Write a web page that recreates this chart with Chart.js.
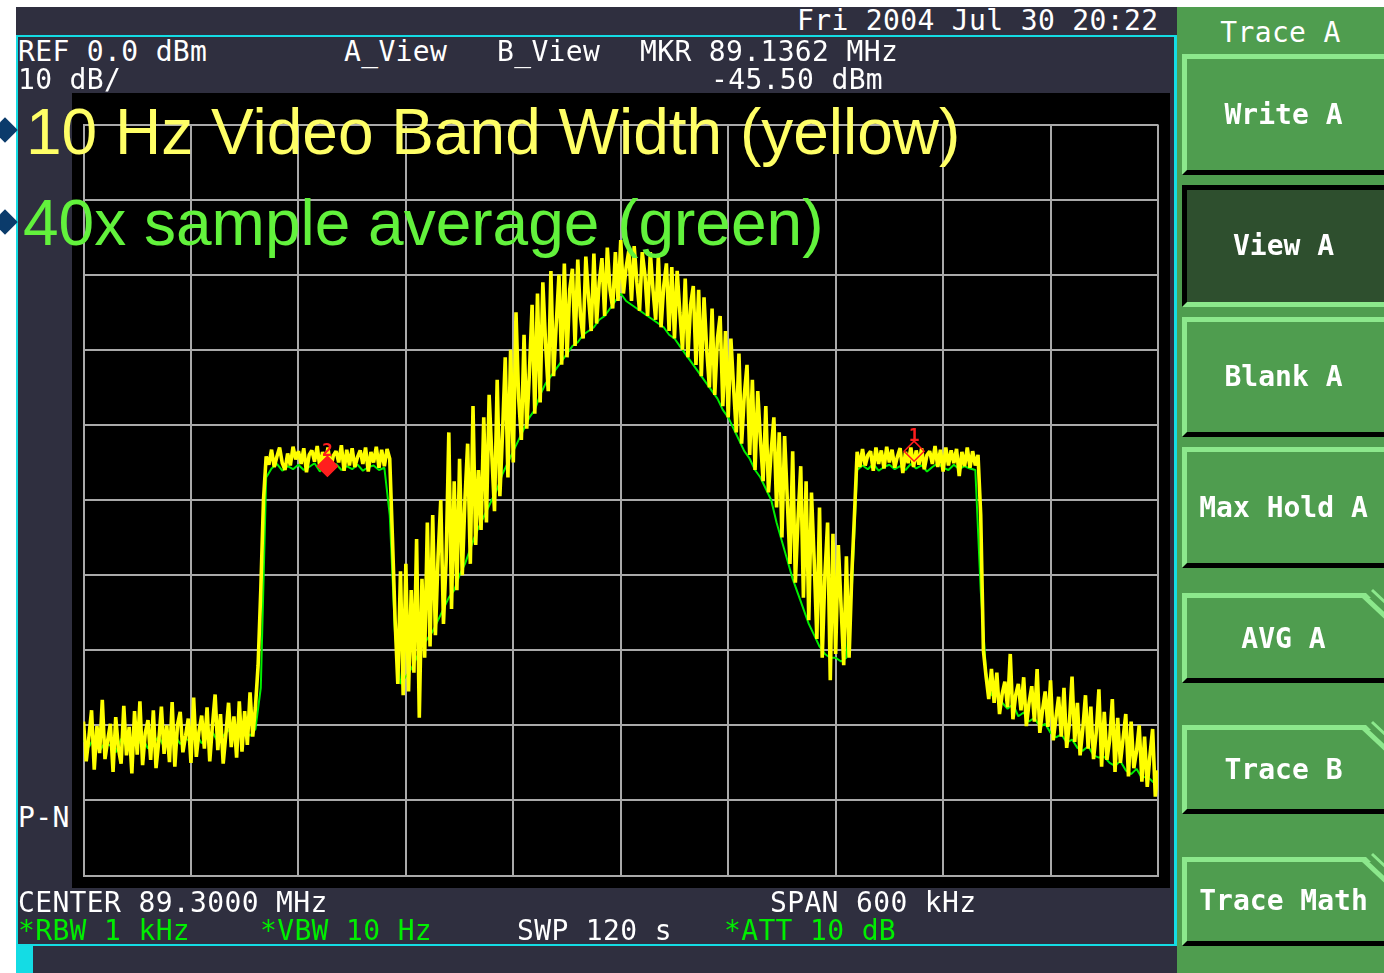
<!DOCTYPE html>
<html>
<head>
<meta charset="utf-8">
<script src="https://cdn.jsdelivr.net/npm/chart.js@4.4.0/dist/chart.umd.min.js"></script>
<style>
  html, body { margin: 0; padding: 0; background: #fff; width: 1384px; height: 973px; overflow: hidden; position: relative; }
  .box { position: absolute; }
  #screen { left: 16px; top: 7px; width: 1161px; height: 966px; background: #2f2f3f; }
  .cy { position: absolute; background: #14dce4; }
  #plot { position: absolute; left: 72px; top: 93px; width: 1098px; height: 795px; background: #000; }
  #plot canvas { display: block; }
  .t { position: absolute; font-family: "DejaVu Sans Mono", monospace; font-size: 28px; line-height: 28px; color: #fff; white-space: pre; letter-spacing: 0.35px; }
  .g { color: #00ee00; }
  #panel { left: 1177px; top: 7px; width: 207px; height: 966px; background: #4f9d4f; }
  .key { position: absolute; left: 1182px; width: 210px; box-sizing: border-box; background: #4f9d4f;
         border-top: 5px solid #8ce88c; border-left: 5px solid #8ce88c; border-bottom: 5px solid #000; }
  .key.down { background: #2e4f2e; border-top-color: #000; border-left-color: #000; border-bottom-color: #8ce88c; }
  .kl { position: absolute; left: 1183px; width: 201px; text-align: center; font-family: "DejaVu Sans Mono", monospace;
        font-size: 28px; line-height: 28px; color: #fff; font-weight: bold; white-space: pre; }
  .note { position: absolute; font-family: "Liberation Sans", Arial, sans-serif; font-size: 64px; line-height: 64px; white-space: pre; }
  .bullet { position: absolute; width: 18px; height: 18px; background: #0b3b6b; transform: rotate(45deg); }
</style>
</head>
<body>
<div id="screen" class="box"></div>
<div class="cy" style="left:16px;top:35px;width:1161px;height:2px"></div>
<div class="cy" style="left:16px;top:35px;width:2px;height:911px"></div>
<div class="cy" style="left:1174px;top:35px;width:3px;height:911px"></div>
<div class="cy" style="left:16px;top:944px;width:1161px;height:2px"></div>
<div class="cy" style="left:16px;top:946px;width:17px;height:27px"></div>

<div id="plot"><canvas id="c" width="1098" height="795"></canvas></div>

<!-- instrument status text -->
<div class="t" style="left:797px;top:7px">Fri 2004 Jul 30 20:22</div>
<div class="t" style="left:18px;top:38px">REF 0.0 dBm</div>
<div class="t" style="left:18px;top:66px">10 dB/</div>
<div class="t" style="left:344px;top:38px">A_View</div>
<div class="t" style="left:497px;top:38px">B_View</div>
<div class="t" style="left:640px;top:38px">MKR 89.1362 MHz</div>
<div class="t" style="left:711px;top:66px">-45.50 dBm</div>
<div class="t" style="left:18px;top:804px">P-N</div>
<div class="t" style="left:18px;top:889px">CENTER 89.3000 MHz</div>
<div class="t" style="left:770px;top:889px">SPAN 600 kHz</div>
<div class="t g" style="left:18px;top:917px">*RBW 1 kHz</div>
<div class="t g" style="left:260px;top:917px">*VBW 10 Hz</div>
<div class="t" style="left:517px;top:917px">SWP 120 s</div>
<div class="t g" style="left:724px;top:917px">*ATT 10 dB</div>

<!-- softkey menu -->
<div id="panel" class="box"></div>
<div class="t" style="left:1177px;width:207px;text-align:center;top:19px">Trace A</div>
<div class="key" style="top:54px;height:121px"></div>
<div class="key down" style="top:185px;height:122px"></div>
<div class="key" style="top:317px;height:120px"></div>
<div class="key" style="top:447px;height:121px"></div>
<div class="key" style="top:593px;height:90px"></div>
<div class="key" style="top:725px;height:89px"></div>
<div class="key" style="top:857px;height:89px"></div>
<svg class="box" style="left:0;top:0" width="1384" height="973">
  <g fill="#4f9d4f" stroke="none">
    <polygon points="1366,593 1390,593 1390,617"/>
    <polygon points="1366,725 1390,725 1390,749"/>
    <polygon points="1366,857 1390,857 1390,881"/>
  </g>
  <g stroke="#8ce88c" stroke-width="5" fill="none">
    <line x1="1363" y1="595.5" x2="1386" y2="617"/>
    <line x1="1363" y1="727.5" x2="1386" y2="749"/>
    <line x1="1363" y1="859.5" x2="1386" y2="881"/>
  </g>
  <g stroke="#8ce88c" stroke-width="3" fill="none">
    <line x1="1372" y1="590" x2="1388" y2="605"/>
    <line x1="1372" y1="722" x2="1388" y2="737"/>
    <line x1="1372" y1="854" x2="1388" y2="869"/>
  </g>
</svg>
<div class="kl" style="top:101px">Write A</div>
<div class="kl" style="top:232px">View A</div>
<div class="kl" style="top:363px">Blank A</div>
<div class="kl" style="top:494px">Max Hold A</div>
<div class="kl" style="top:625px">AVG A</div>
<div class="kl" style="top:756px">Trace B</div>
<div class="kl" style="top:887px">Trace Math</div>

<!-- slide notes -->
<div class="bullet" style="left:-4px;top:121px"></div>
<div class="bullet" style="left:-4px;top:213px"></div>
<div class="note" style="left:26px;top:100px;color:#ffff66">10 Hz Video Band Width (yellow)</div>
<div class="note" style="left:23px;top:191px;color:#62f23c">40x sample average (green)</div>

<script>
// Sweep settings shown on screen
const CENTER_KHZ = 89300;
const SPAN_KHZ = 600;
const REF_DBM = 0;
const DB_PER_DIV = 10;
const DIVISIONS = 10;

// Trace A, 10 Hz video bandwidth (yellow), 401 sweep points, dBm
const traceVbw10 = [
  -79.5, -84.8, -81.6, -78.0, -85.9, -80.1, -83.7, -76.6, -84.5, -82.0,
  -79.8, -86.2, -78.9, -83.1, -85.1, -77.4, -84.0, -80.2, -86.4, -78.1,
  -83.9, -76.8, -85.3, -81.0, -79.3, -84.6, -78.0, -85.7, -82.2, -77.5,
  -83.8, -80.0, -84.9, -76.9, -85.5, -79.9, -78.2, -83.6, -81.4, -79.1,
  -85.0, -76.3, -84.2, -80.8, -78.7, -83.1, -77.6, -84.8, -80.0, -75.9,
  -83.3, -78.5, -85.1, -81.2, -77.0, -82.9, -78.8, -84.3, -76.8, -83.5,
  -78.1, -82.6, -75.6, -81.5, -77.6, -72.0, -62.0, -50.0, -44.2, -45.3,
  -43.3, -45.6, -44.2, -43.0, -45.1, -46.0, -43.8, -45.4, -42.9, -44.6,
  -43.5, -45.2, -43.1, -46.3, -44.0, -43.4, -44.9, -42.8, -45.7, -43.6,
  -45.3, -43.0, -45.9, -44.1, -43.5, -45.0, -42.7, -46.1, -43.3, -45.4,
  -43.1, -45.6, -44.3, -43.4, -45.2, -43.0, -46.2, -43.6, -45.0, -42.9,
  -45.7, -43.3, -45.5, -43.2, -44.5, -55.0, -66.0, -74.5, -59.5, -76.0,
  -58.5, -75.5, -62.0, -73.0, -55.2, -79.0, -60.5, -71.0, -53.0, -69.5,
  -52.0, -68.0, -57.5, -50.0, -66.5, -58.0, -41.0, -64.5, -47.5, -62.0,
  -44.5, -60.0, -50.0, -42.5, -58.5, -37.5, -56.0, -46.0, -54.0, -39.0,
  -53.0, -36.0, -44.0, -51.5, -34.0, -49.5, -41.0, -31.0, -47.0, -30.0,
  -45.0, -25.0, -36.5, -42.0, -28.0, -40.5, -33.0, -24.0, -38.5, -22.5,
  -37.0, -21.0, -29.0, -35.5, -19.5, -33.5, -26.5, -20.0, -32.0, -18.5,
  -31.0, -22.0, -19.2, -29.5, -18.0, -25.5, -28.5, -17.6, -23.0, -27.5,
  -17.2, -26.5, -21.0, -17.8, -25.5, -16.4, -22.0, -24.5, -17.0, -23.5,
  -15.4, -22.5, -19.0, -16.8, -23.5, -16.2, -21.0, -24.8, -17.0, -20.0,
  -25.5, -17.0, -22.0, -26.0, -17.5, -27.0, -21.5, -18.5, -27.5, -19.0,
  -28.5, -19.5, -25.0, -30.0, -20.5, -31.0, -24.0, -21.5, -32.0, -22.0,
  -33.5, -23.0, -30.0, -35.0, -24.5, -36.0, -28.5, -25.5, -37.5, -27.5,
  -39.0, -28.5, -35.0, -41.0, -30.5, -42.5, -36.0, -32.0, -44.0, -34.0,
  -46.0, -35.5, -42.0, -47.5, -37.5, -49.0, -43.5, -39.0, -51.0, -41.0,
  -55.0, -41.5, -50.0, -58.5, -43.5, -61.0, -52.5, -45.5, -63.0, -47.5,
  -66.0, -49.0, -58.0, -68.5, -51.0, -71.0, -60.0, -53.0, -74.0, -54.5,
  -70.5, -56.0, -64.0, -72.0, -57.5, -71.0, -60.0, -52.0, -43.6, -45.6,
  -43.2, -45.4, -44.0, -43.5, -46.1, -43.0, -45.2, -43.4, -45.8, -42.9,
  -45.0, -43.3, -45.7, -44.2, -43.1, -46.4, -43.6, -45.1, -43.0, -45.6,
  -43.4, -45.3, -43.1, -45.9, -44.0, -43.5, -45.2, -42.8, -45.6, -43.3,
  -46.2, -43.0, -45.4, -43.4, -45.1, -43.2, -46.8, -43.6, -45.5, -43.0,
  -45.7, -43.5, -45.4, -44.0, -52.0, -70.0, -73.5, -76.5, -72.5, -77.0,
  -73.0, -78.5, -75.8, -74.2, -77.6, -70.5, -79.2, -76.0, -74.5, -78.0,
  -73.6, -80.1, -77.0, -74.8, -79.5, -72.5, -81.0, -78.0, -75.5, -80.2,
  -74.0, -82.0, -79.0, -76.2, -81.5, -75.0, -83.0, -79.8, -73.5, -82.2,
  -77.0, -84.0, -80.5, -76.0, -83.1, -77.5, -84.5, -81.0, -75.2, -85.5,
  -78.2, -84.6, -82.0, -76.5, -86.2, -79.0, -85.0, -81.8, -78.5, -86.8,
  -79.5, -85.7, -83.5, -80.0, -87.5, -81.5, -88.2, -84.0, -80.5, -89.5,
  -86.0
];

// 40-sweep sample-detector average (green), 201 sweep points, dBm
const traceAvg40 = [
  -82.0, -82.9, -81.6, -83.4, -82.3, -82.7, -83.6, -81.8, -82.8, -82.2,
  -82.6, -81.7, -83.1, -82.4, -81.5, -82.9, -82.0, -81.3, -82.5, -81.8,
  -82.1, -81.2, -82.4, -81.6, -80.9, -82.2, -81.4, -80.6, -81.8, -81.1,
  -80.7, -81.4, -80.5, -75.0, -47.0, -45.8, -45.2, -46.1, -45.5, -45.9,
  -45.3, -46.0, -45.6, -45.1, -46.2, -45.4, -45.8, -45.2, -46.0, -45.5,
  -45.9, -45.3, -46.1, -45.6, -45.4, -46.0, -45.7, -52.0, -68.0, -74.5,
  -73.5, -72.5, -71.0, -69.5, -68.5, -67.5, -66.0, -64.5, -63.0, -62.0,
  -60.0, -58.5, -56.5, -54.5, -53.0, -51.5, -50.0, -48.5, -46.5, -45.0,
  -43.5, -42.0, -40.5, -39.0, -38.0, -36.0, -34.5, -33.5, -32.5, -31.5,
  -30.5, -29.5, -29.0, -28.0, -27.5, -27.0, -26.0, -25.5, -24.5, -23.5,
  -22.5, -23.5, -24.0, -24.5, -25.0, -25.5, -26.0, -26.5, -27.0, -28.0,
  -28.5, -29.5, -30.5, -31.5, -32.5, -33.5, -34.5, -35.5, -36.5, -38.0,
  -39.0, -40.5, -42.0, -43.5, -44.5, -46.0, -47.0, -48.5, -50.0, -53.0,
  -55.5, -58.0, -60.5, -62.5, -64.5, -66.5, -68.0, -69.5, -70.5, -71.0,
  -71.0, -71.5, -71.0, -62.0, -46.0, -45.4, -45.9, -45.2, -46.1, -45.6,
  -45.3, -45.9, -45.5, -46.0, -45.2, -45.8, -45.4, -46.2, -45.6, -45.1,
  -45.7, -46.0, -45.3, -45.9, -45.5, -45.8, -46.0, -62.0, -73.0, -76.0,
  -76.0, -77.0, -77.8, -77.2, -78.8, -78.3, -79.5, -79.0, -80.2, -79.8,
  -81.0, -81.6, -81.2, -82.3, -81.9, -83.0, -83.4, -82.8, -84.0, -84.3,
  -84.2, -85.0, -85.4, -84.8, -86.0, -86.5, -85.8, -87.0, -86.8, -87.5,
  -88.0
];

// Markers: number, frequency (kHz), level (dBm), filled = active marker
const markerName = ['1', '2'];
const markerFreqKhz = [89463.8, 89136.2];
const markerLevel = [-43.5, -45.50];
const markerActive = [false, true];

// Sweep points are evenly spread across the span
function sweepFreqs(n) {
  const start = CENTER_KHZ - SPAN_KHZ / 2;
  return Array.from({ length: n }, (_, i) => start + i * SPAN_KHZ / (n - 1));
}
function toPoints(values) {
  const f = sweepFreqs(values.length);
  return values.map((v, i) => ({ x: f[i], y: v }));
}

const markerLabels = {
  id: 'markerLabels',
  afterDatasetsDraw(chart) {
    const { ctx, scales: { x, y } } = chart;
    ctx.save();
    ctx.fillStyle = '#ff1e1e';
    ctx.font = 'bold 18px "DejaVu Sans Mono", monospace';
    ctx.textAlign = 'center';
    ctx.textBaseline = 'bottom';
    markerFreqKhz.forEach((f, i) => {
      ctx.fillText(markerName[i], x.getPixelForValue(f), y.getPixelForValue(markerLevel[i]) - 6);
    });
    ctx.restore();
  }
};

const gridStyle = { color: '#a9a9a9', lineWidth: 2, drawTicks: false };
const borderStyle = { display: true, color: '#a9a9a9', width: 2 };

new Chart(document.getElementById('c'), {
  type: 'line',
  data: {
    datasets: [
      {
        type: 'scatter',
        data: markerFreqKhz.map((f, i) => ({ x: f, y: markerLevel[i] })),
        pointStyle: 'rectRot',
        pointRadius: 10,
        pointBorderWidth: 1.5,
        pointBorderColor: '#ff1e1e',
        pointBackgroundColor: markerActive.map(a => a ? '#ff1e1e' : 'rgba(0,0,0,0)'),
        showLine: false,
        order: 0
      },
      {
        data: toPoints(traceVbw10),
        borderColor: '#ffff00',
        borderWidth: 3.6,
        borderJoinStyle: 'bevel',
        pointRadius: 0,
        order: 1
      },
      {
        data: toPoints(traceAvg40),
        borderColor: '#00ee00',
        borderWidth: 2,
        borderJoinStyle: 'bevel',
        pointRadius: 0,
        order: 2
      }
    ]
  },
  options: {
    responsive: false,
    animation: false,
    devicePixelRatio: 1,
    layout: { padding: { left: 11.5, top: 31.5, right: 12, bottom: 12.5 } },
    plugins: { legend: { display: false }, tooltip: { enabled: false } },
    elements: { line: { tension: 0 } },
    scales: {
      x: {
        type: 'linear',
        min: CENTER_KHZ - SPAN_KHZ / 2,
        max: CENTER_KHZ + SPAN_KHZ / 2,
        afterFit(s) { s.height = 0; },
        ticks: { display: false, stepSize: SPAN_KHZ / DIVISIONS },
        grid: gridStyle,
        border: borderStyle
      },
      y: {
        min: REF_DBM - DB_PER_DIV * DIVISIONS,
        max: REF_DBM,
        afterFit(s) { s.width = 0; },
        ticks: { display: false, stepSize: DB_PER_DIV },
        grid: gridStyle,
        border: borderStyle
      }
    }
  },
  plugins: [markerLabels]
});
</script>
</body>
</html>
